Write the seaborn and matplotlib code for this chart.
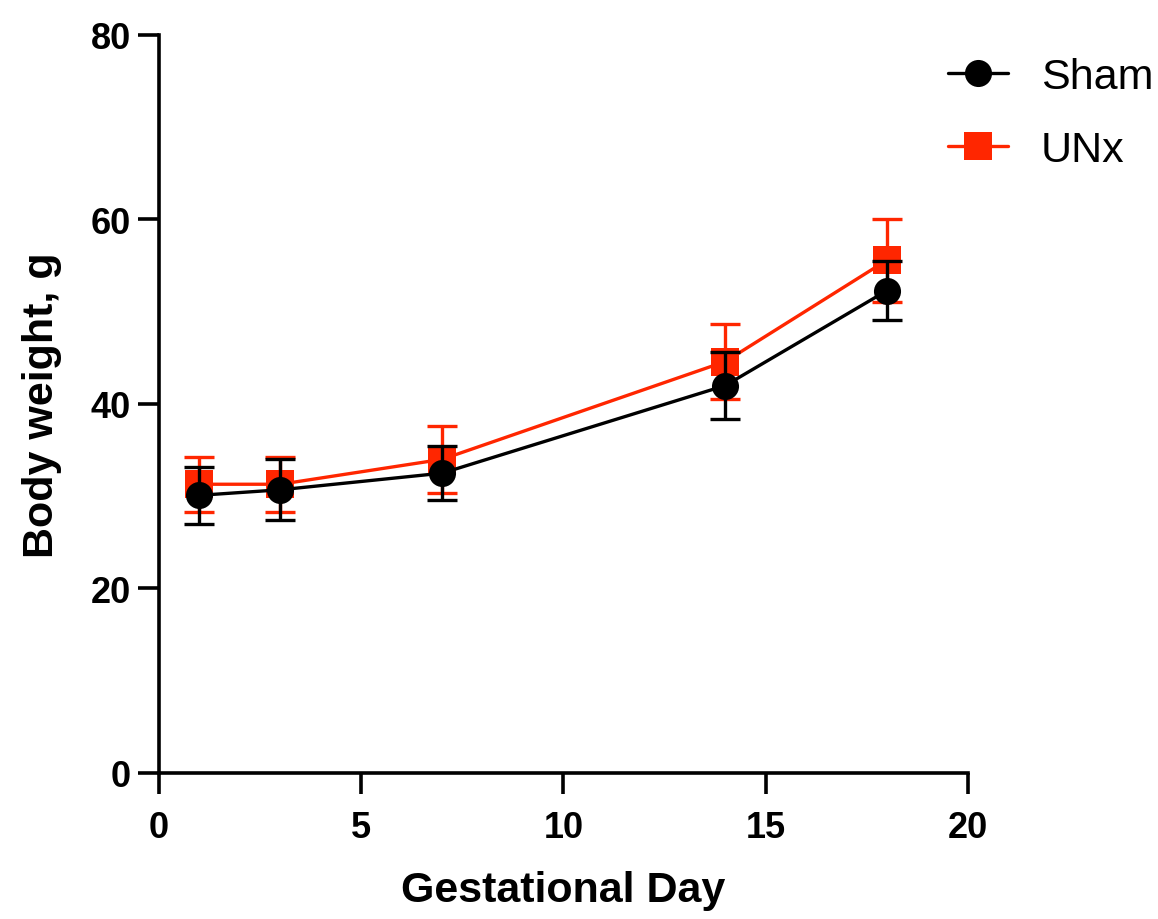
import numpy as np
import pandas as pd
import matplotlib
matplotlib.use("Agg")
import matplotlib.pyplot as plt
import seaborn as sns

# Gestational days and body weight (mean ± SD)
days = [1, 3, 7, 14, 18]
sham_mean = [30.1, 30.7, 32.5, 42.0, 52.3]
sham_sd = [3.1, 3.3, 2.9, 3.6, 3.2]
unx_mean = [31.3, 31.3, 34.0, 44.6, 55.6]
unx_sd = [3.0, 3.0, 3.6, 4.1, 4.5]
groups = ["Sham", "UNx"]
colors = {"Sham": "#000000", "UNx": "#FF2600"}
markers = {"Sham": "o", "UNx": "s"}

df = pd.DataFrame({
    "day": days * 2,
    "weight": sham_mean + unx_mean,
    "sd": sham_sd + unx_sd,
    "group": ["Sham"] * len(days) + ["UNx"] * len(days),
})

sns.set_theme(style="ticks")
plt.rcParams["font.family"] = ["Liberation Sans", "DejaVu Sans"]

fig = plt.figure(figsize=(11.58, 9.2), dpi=100)
ax = fig.add_axes([0.1373, 0.1587, 0.6986, 0.8022])

# Draw UNx first so Sham sits on top
for i, g in enumerate(["UNx", "Sham"]):
    sub = df[df["group"] == g]
    ax.errorbar(sub["day"], sub["weight"], yerr=sub["sd"], fmt="none",
                ecolor=colors[g], elinewidth=2.4, capsize=10.5, capthick=2.4,
                zorder=2 + 3 * i)
    sns.lineplot(data=sub, x="day", y="weight", ax=ax, color=colors[g],
                 marker=markers[g], markersize=19.5, markeredgewidth=0,
                 linewidth=2.4, label=g, legend=False, zorder=3 + 3 * i)

ax.set_xlim(0, 20)
ax.set_ylim(0, 80)
ax.set_xticks([0, 5, 10, 15, 20])
ax.set_yticks([0, 20, 40, 60, 80])

for s in ["top", "right"]:
    ax.spines[s].set_visible(False)
for s in ["left", "bottom"]:
    ax.spines[s].set_linewidth(2.6)
    ax.spines[s].set_color("black")
ax.tick_params(axis="both", direction="out", length=15, width=2.6,
               labelsize=26, colors="black")
ax.tick_params(axis="y", pad=5)
ax.tick_params(axis="x", pad=12)
for lab in ax.get_xticklabels() + ax.get_yticklabels():
    lab.set_fontweight("bold")

ax.set_xlabel("Gestational Day", fontsize=31, fontweight="bold",
              color="black", labelpad=18)
ax.set_ylabel("Body weight, g", fontsize=31, fontweight="bold",
              color="black", labelpad=21)

handles, labels = ax.get_legend_handles_labels()
order = [labels.index(g) for g in groups]
leg = fig.legend([handles[k] for k in order], [labels[k] for k in order],
                 loc="upper left", bbox_to_anchor=(0.8187, 0.9365),
                 frameon=False, fontsize=31, handlelength=1.4,
                 handletextpad=0.75, labelspacing=0.75, borderpad=0,
                 borderaxespad=0)
for t in leg.get_texts():
    t.set_color("black")

fig.savefig("out.png", dpi=100, facecolor="white")
